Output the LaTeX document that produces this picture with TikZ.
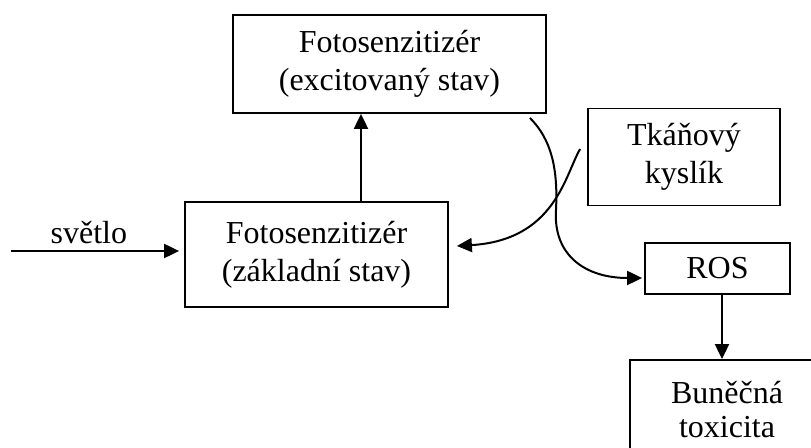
\documentclass[tikz,border=0pt]{standalone}
\usepackage{fontspec}
\setmainfont{Liberation Serif}
\usepackage{tikz}
\usetikzlibrary{arrows.meta, positioning, calc}

\tikzset{
	box/.style={draw, line width=0.9pt, align=center, inner sep=0pt,
		font=\fontsize{16}{19}\selectfont},
	flow/.style={line width=1pt, -{Triangle[length=7.5pt,width=7pt]}}
}

\begin{document}
\begin{tikzpicture}[x=0.5pt, y=-0.5pt]
		% Frame
		\useasboundingbox (0,0) rectangle (811,448);
		\clip (0,0) rectangle (811,448);
		
		% Boxes
		\node[box, minimum width=156.5pt, minimum height=49pt] (excited) at (389.5,64) {Fotosenzitizér\\(excitovaný stav)};
		\node[box, minimum width=131.5pt, minimum height=52.5pt] (ground) at (316.5,254.5) {Fotosenzitizér\\(základní stav)};
		\node[box, minimum width=96pt, minimum height=48.5pt] (oxygen) at (684,157) {Tkáňový\\kyslík};
		\node[box, minimum width=72.5pt, minimum height=25.5pt] (ros) at (717.5,268.5) {ROS};
		\node[box, minimum width=97pt, minimum height=50pt, font=\fontsize{16}{17}\selectfont] (toxicity) at (727,410) {Buněčná\\toxicita};
		
		% Light
		\coordinate (lightsrc) at (11,251);
		\draw[flow, shorten >=2.5pt] (lightsrc) -- (lightsrc -| ground.west)
		node[pos=0.45, above, font=\fontsize{16}{19}\selectfont] (lightlabel) {světlo};
		
		% Excitation
		\coordinate (upx) at (361,0);
		\draw[flow] (ground.north -| upx) -- (excited.south -| upx);
		
		% Energy transfer
		\draw[flow] ([xshift=-8.5pt,yshift=-2pt]excited.south east)
		.. controls (552,140) and (558,170) .. (556,210)
		.. controls (553,255) and (585,278) .. ([xshift=-1pt,yshift=-4.75pt]ros.west);
		\draw[flow] ([xshift=-3.5pt,yshift=4pt]oxygen.west)
		.. controls (565,175) and (555,240) .. ([xshift=4pt,yshift=4.25pt]ground.east);
		
		% Toxicity
		\coordinate (downx) at (722,0);
		\draw[flow] (ros.south -| downx) -- (toxicity.north -| downx);
	\end{tikzpicture}
\end{document}
